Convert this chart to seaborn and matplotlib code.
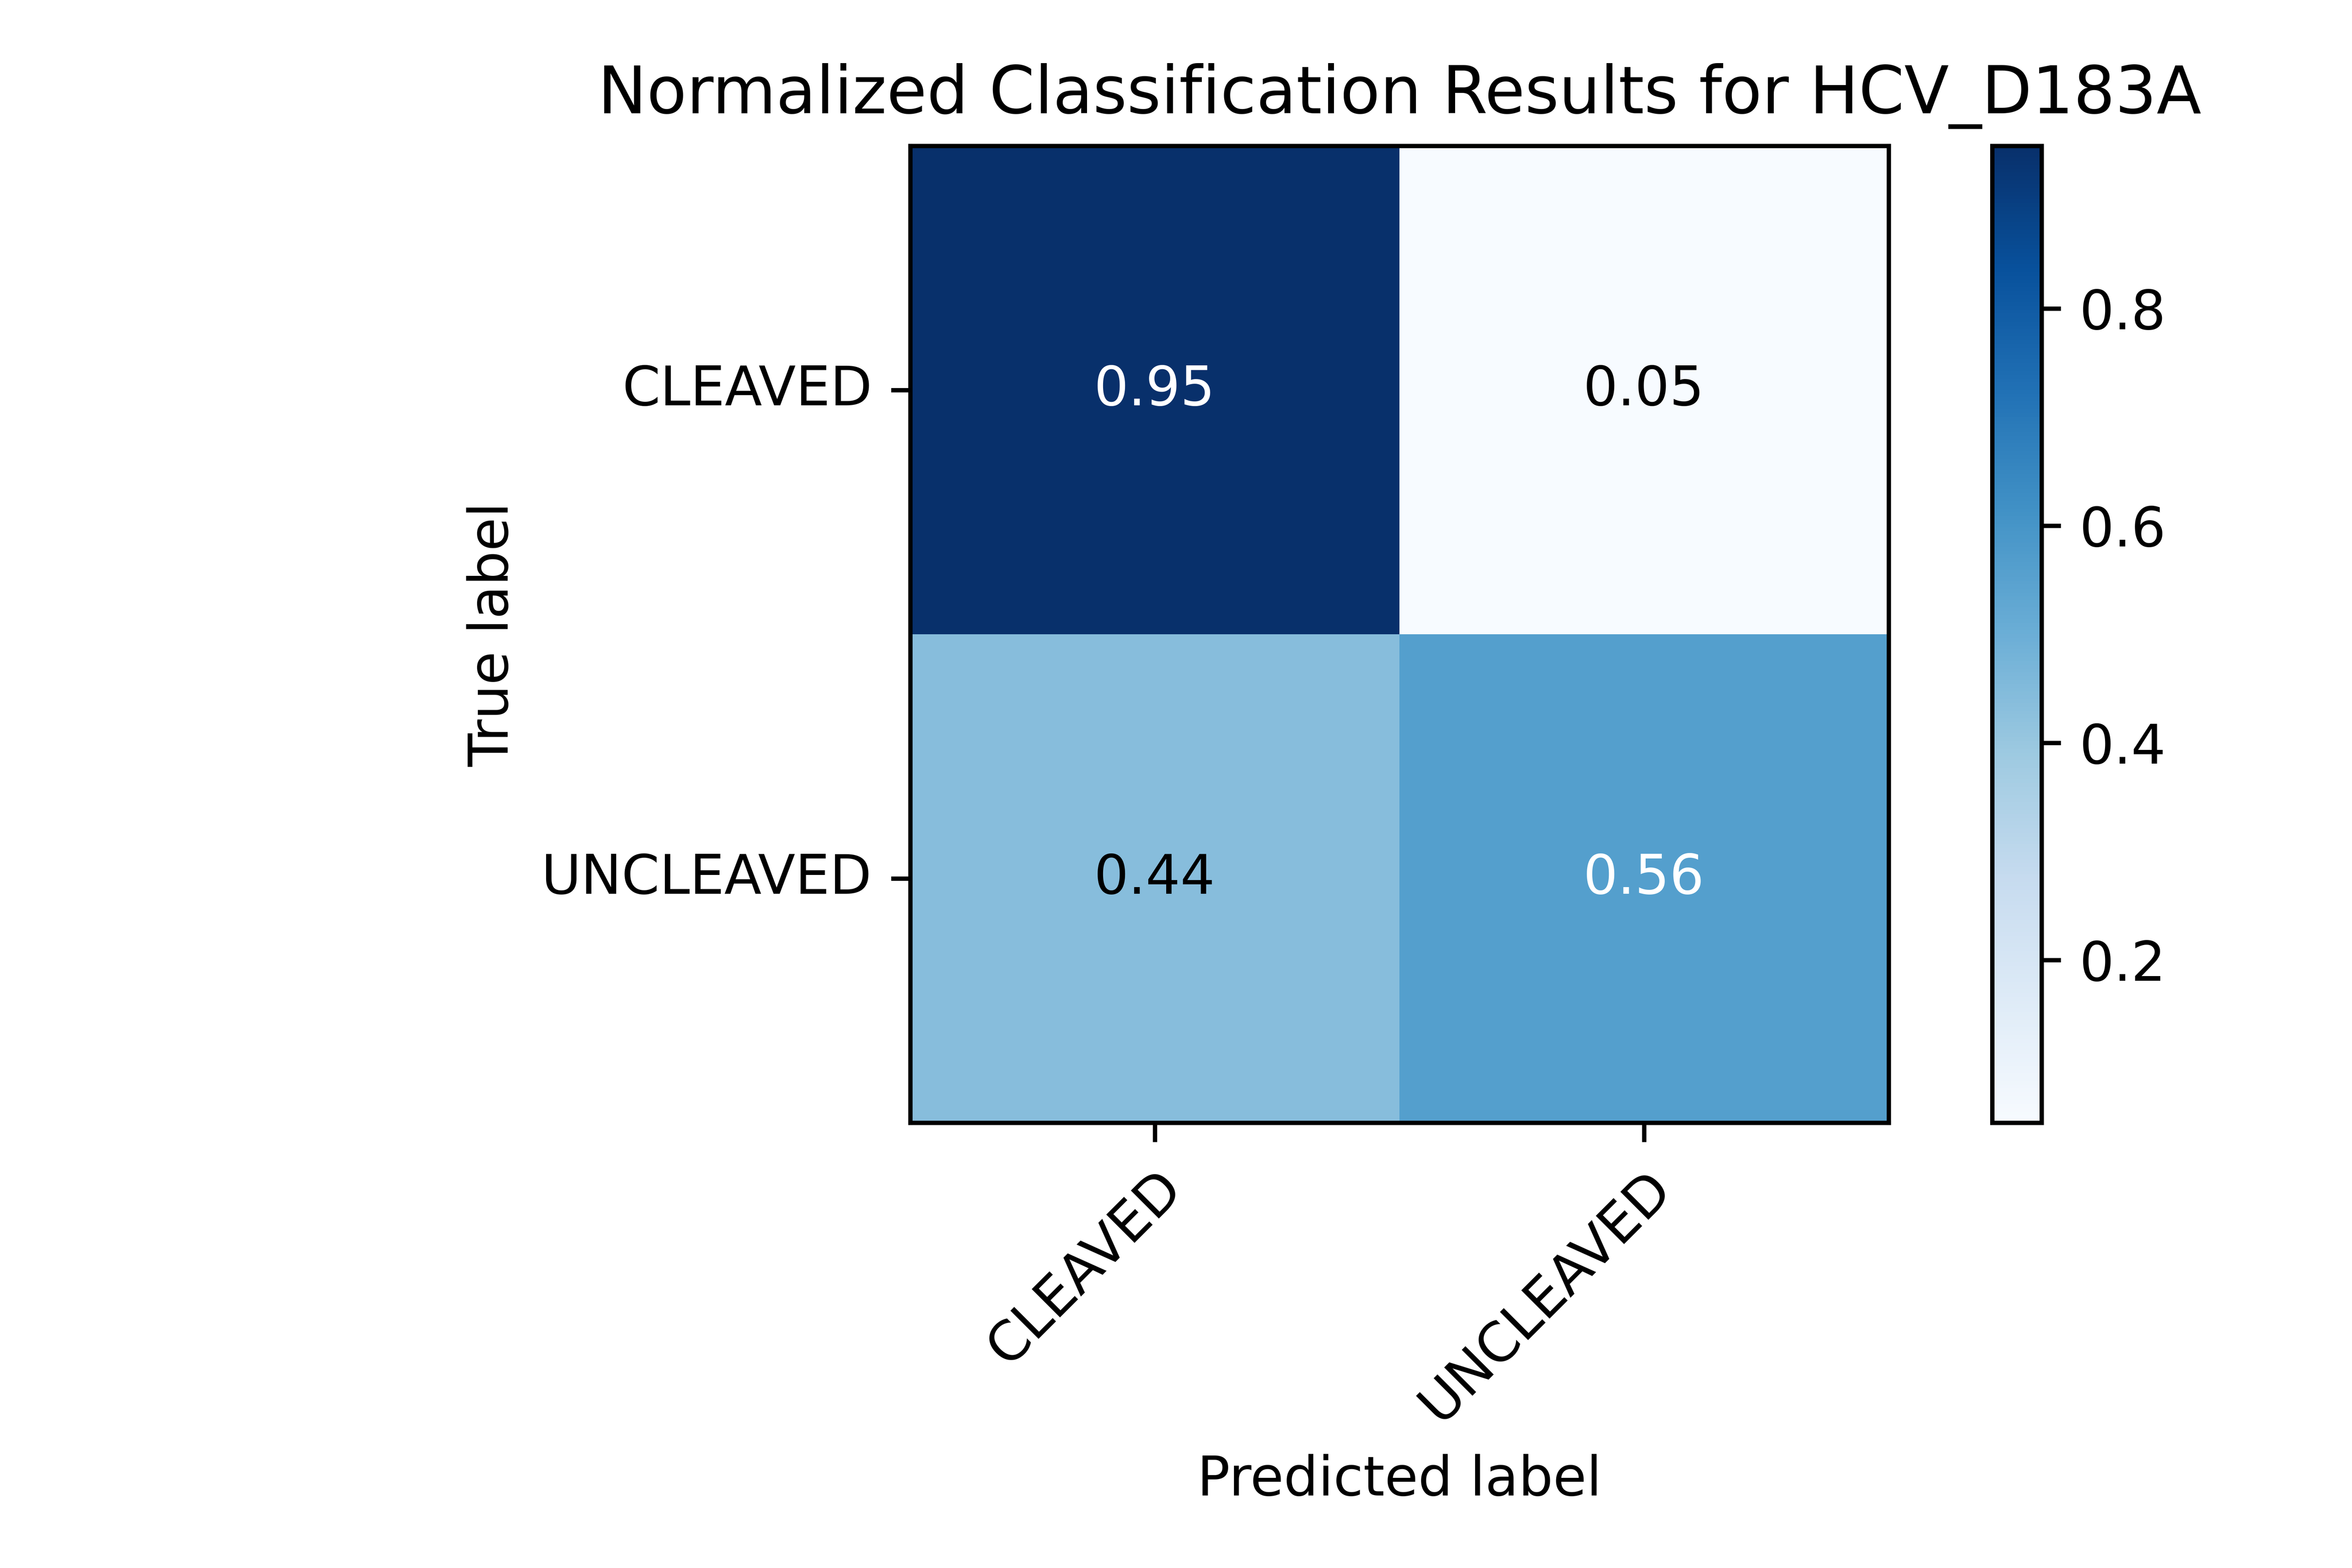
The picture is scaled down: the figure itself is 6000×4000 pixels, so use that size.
import numpy as np
import pandas as pd
import matplotlib
matplotlib.use("Agg")
import matplotlib.pyplot as plt
import seaborn as sns

labels = ["CLEAVED", "UNCLEAVED"]
values = [[0.95, 0.05], [0.44, 0.56]]
title = "Normalized Classification Results for HCV_D183A"

plt.rcParams['font.family'] = ['DejaVu Sans']
fig = plt.figure(figsize=(6, 4), dpi=1000)
ax = fig.add_axes([0.387, 0.284, 0.416, 0.623])
cax = fig.add_axes([0.847, 0.284, 0.021, 0.623])
df = pd.DataFrame(values, index=labels, columns=labels)
vmin, vmax = np.min(values), np.max(values)
sns.heatmap(df, ax=ax, cbar_ax=cax, cmap="Blues", vmin=vmin, vmax=vmax, annot=False)
thresh = vmax / 2
for i in range(2):
    for j in range(2):
        v = values[i][j]
        ax.text(j + 0.5, i + 0.5, f"{v:.2f}", ha="center", va="center",
                color="white" if v > thresh else "black", fontsize=10)
for s in ax.spines.values():
    s.set_visible(True); s.set_linewidth(0.8); s.set_color("black")
ax.tick_params(length=3.5, width=0.8, labelsize=10)
ax.set_xticks([0.5, 1.5]); ax.set_yticks([0.5, 1.5])
ax.set_xticklabels(labels, rotation=45, ha="right", rotation_mode="anchor")
ax.set_yticklabels(labels, rotation=0)
ax.set_xlabel("Predicted label", fontsize=10)
ax.set_ylabel("True label", fontsize=10)
ax.set_title(title, fontsize=12)
cb = ax.collections[0].colorbar
cb.outline.set_visible(True); cb.outline.set_linewidth(0.8); cb.outline.set_edgecolor("black")
cb.set_ticks([0.2, 0.4, 0.6, 0.8])
cax.tick_params(labelsize=10, length=3.5, width=0.8)
fig.savefig("out.png", dpi=1000)
